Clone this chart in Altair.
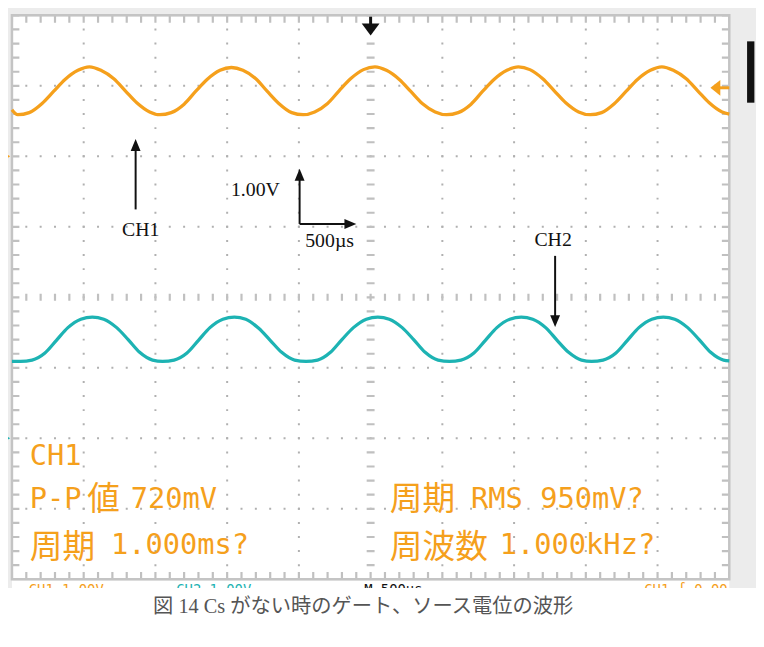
import altair as alt
import pandas as pd

ORANGE = "#F5A01C"
CYAN = "#1DB3B3"
GRID = "#b0b0b0"
TICK = "#c0c0c0"
FRAME = "#c4c4c4"
PANEL = "#ececec"

# ---- waveform readings: time (ms), level (divisions, 1.00 V/div) ----
ch1_t = [0.00, 0.04, 0.12, 0.21, 0.29, 0.37, 0.46, 0.54, 0.62, 0.71, 0.79, 0.87, 0.96,
         1.03, 1.11, 1.20, 1.28, 1.36, 1.45, 1.53, 1.61, 1.70, 1.78, 1.86, 1.95,
         2.03, 2.11, 2.20, 2.28, 2.36, 2.45, 2.53, 2.61, 2.70, 2.78, 2.86, 2.95,
         3.03, 3.11, 3.20, 3.28, 3.36, 3.45, 3.53, 3.61, 3.70, 3.78, 3.86, 3.95,
         4.03, 4.11, 4.20, 4.28, 4.36, 4.45, 4.53, 4.61, 4.70, 4.78, 4.86, 4.95, 5.00]
ch1_v = [2.66, 2.59, 2.62, 2.75, 2.92, 3.09, 3.22, 3.27, 3.22, 3.10, 2.93, 2.76, 2.63,
         2.59, 2.62, 2.74, 2.92, 3.09, 3.22, 3.26, 3.22, 3.10, 2.92, 2.75, 2.62,
         2.59, 2.63, 2.75, 2.93, 3.10, 3.23, 3.27, 3.22, 3.09, 2.92, 2.75, 2.63,
         2.59, 2.62, 2.74, 2.92, 3.09, 3.22, 3.27, 3.23, 3.10, 2.93, 2.76, 2.63,
         2.59, 2.62, 2.75, 2.92, 3.09, 3.22, 3.27, 3.22, 3.10, 2.93, 2.76, 2.63, 2.60]

ch2_t = [0.00, 0.06, 0.14, 0.23, 0.31, 0.39, 0.48, 0.56, 0.64, 0.73, 0.81, 0.89, 0.98,
         1.05, 1.13, 1.22, 1.30, 1.38, 1.47, 1.55, 1.63, 1.72, 1.80, 1.88, 1.97,
         2.05, 2.13, 2.22, 2.30, 2.38, 2.47, 2.55, 2.63, 2.72, 2.80, 2.88, 2.97,
         3.05, 3.13, 3.22, 3.30, 3.38, 3.47, 3.55, 3.63, 3.72, 3.80, 3.88, 3.97,
         4.04, 4.12, 4.21, 4.29, 4.37, 4.46, 4.54, 4.62, 4.71, 4.79, 4.87, 4.96, 5.00]
ch2_v = [-0.91, -0.91, -0.89, -0.79, -0.61, -0.43, -0.31, -0.28, -0.31, -0.43, -0.60, -0.78, -0.89,
         -0.91, -0.89, -0.79, -0.61, -0.43, -0.31, -0.28, -0.31, -0.44, -0.61, -0.78, -0.89,
         -0.91, -0.89, -0.78, -0.60, -0.43, -0.31, -0.28, -0.31, -0.43, -0.60, -0.78, -0.89,
         -0.91, -0.89, -0.79, -0.61, -0.43, -0.31, -0.28, -0.31, -0.43, -0.61, -0.78, -0.89,
         -0.91, -0.89, -0.79, -0.61, -0.43, -0.31, -0.28, -0.31, -0.43, -0.60, -0.78, -0.89, -0.90]

# ---- graticule ----
vgrid_t = [0.5, 1.0, 1.5, 2.0, 3.0, 3.5, 4.0, 4.5]
hgrid_v = [3, 2, 1, -1, -2, -3]

# ---- annotation texts ----
note_text = ["CH1", "1.00V", "500µs", "CH2"]
note_t = [0.897, 1.697, 2.214, 3.772]
note_v = [0.952, 1.527, 0.798, 0.812]

meas_latin = ["CH1", "P-P", "720mV", "RMS 950mV?", "1.000ms?", "1.000kHz?"]
meas_latin_t = [0.124, 0.124, 0.828, 3.20, 0.690, 3.40]
meas_latin_v = [-2.384, -2.987, -2.987, -2.987, -3.646, -3.646]
meas_kanji = ["値", "周期", "周期", "周波数"]
meas_kanji_t = [0.524, 2.634, 0.124, 2.634]
meas_kanji_v = [-2.877, -2.877, -3.564, -3.564]

status_text = ["CH1  1.00V", "CH2  1.00V", "M 500µs", "CH1 ∫ 0.00"]
status_t = [0.117, 1.145, 2.455, 4.407]
status_color = [ORANGE, CYAN, "#111111", ORANGE]

caption = "図 14  Cs がない時のゲート、ソース電位の波形"

XS = alt.Scale(domain=[0, 5], nice=False, zero=False)
YS = alt.Scale(domain=[-4, 4], nice=False, zero=False)


def xe(f="t"):
    return alt.X(f, type="quantitative", scale=XS, axis=None)


def ye(f="v"):
    return alt.Y(f, type="quantitative", scale=YS, axis=None)


def rect_layer(df, **kw):
    return alt.Chart(df).mark_rect(**kw).encode(x=xe("t"), x2="t2", y=ye("v"), y2="v2")


def vrule(df, **kw):
    return alt.Chart(df).mark_rule(**kw).encode(x=xe("t"), y=ye("v"), y2="v2")


def hrule(df, **kw):
    return alt.Chart(df).mark_rule(**kw).encode(x=xe("t"), x2="t2", y=ye("v"))


def sym(df, shape, size, color):
    return alt.Chart(df).mark_point(shape=shape, size=size, filled=True, color=color,
                                    opacity=1, strokeWidth=0).encode(x=xe("t"), y=ye("v"))


layers = []
# background panels of the instrument
layers.append(rect_layer(pd.DataFrame({"t": [5.0, -0.2, -0.2], "t2": [5.3, 0.0, 5.3],
                                        "v": [4.3, 4.3, 4.3], "v2": [-4.13, -4.13, 4.0]}),
                         color=PANEL))
layers.append(rect_layer(pd.DataFrame({"t": [5.124], "t2": [5.175], "v": [3.631], "v2": [2.761]}),
                         color="#111111"))

# dotted graticule
layers.append(vrule(pd.DataFrame({"t": vgrid_t, "v": [4] * len(vgrid_t), "v2": [-4] * len(vgrid_t)}),
                    color=GRID, strokeWidth=2, strokeDash=[2, 12.25], strokeDashOffset=1))
layers.append(hrule(pd.DataFrame({"v": hgrid_v, "t": [0] * len(hgrid_v), "t2": [5] * len(hgrid_v)}),
                    color=GRID, strokeWidth=2, strokeDash=[2, 12.5], strokeDashOffset=1))
# centre lines with minor ticks
layers.append(vrule(pd.DataFrame({"t": [2.5], "v": [4], "v2": [-4]}),
                    color=TICK, strokeWidth=8, strokeDash=[2.2, 12.05], strokeDashOffset=1.1))
layers.append(hrule(pd.DataFrame({"v": [0], "t": [0], "t2": [5]}),
                    color=TICK, strokeWidth=7, strokeDash=[2.2, 12.3], strokeDashOffset=1.1))
# edge ticks
layers.append(vrule(pd.DataFrame({"t": [0], "v": [4], "v2": [-4]}),
                    color=TICK, strokeWidth=7, strokeDash=[2.2, 12.05], strokeDashOffset=1.1, xOffset=4))
layers.append(vrule(pd.DataFrame({"t": [5], "v": [4], "v2": [-4]}),
                    color=TICK, strokeWidth=7, strokeDash=[2.2, 12.05], strokeDashOffset=1.1, xOffset=-4))
layers.append(hrule(pd.DataFrame({"v": [4], "t": [0], "t2": [5]}),
                    color=TICK, strokeWidth=7, strokeDash=[2.2, 12.3], strokeDashOffset=1.1, yOffset=4))
layers.append(hrule(pd.DataFrame({"v": [-4], "t": [0], "t2": [5]}),
                    color=TICK, strokeWidth=7, strokeDash=[2.2, 12.3], strokeDashOffset=1.1, yOffset=-4))
# frame
layers.append(rect_layer(pd.DataFrame({"t": [0], "t2": [5], "v": [4], "v2": [-4]}),
                         filled=False, color=FRAME, strokeWidth=2.5))

# waveforms
layers.append(alt.Chart(pd.DataFrame({"t": ch1_t, "v": ch1_v})).mark_line(
    color=ORANGE, strokeWidth=3.3, interpolate="monotone").encode(x=xe("t"), y=ye("v")))
layers.append(alt.Chart(pd.DataFrame({"t": ch2_t, "v": ch2_v})).mark_line(
    color=CYAN, strokeWidth=3.3, interpolate="monotone").encode(x=xe("t"), y=ye("v")))

# trigger markers
layers.append(vrule(pd.DataFrame({"t": [2.5], "v": [3.98], "v2": [3.84]}), color="#111111", strokeWidth=3))
layers.append(sym(pd.DataFrame({"t": [2.5], "v": [3.80]}), "M-1,-0.67L1,-0.67L0,0.67Z", 324, "#111111"))
layers.append(hrule(pd.DataFrame({"v": [2.972], "t": [4.93], "t2": [5.0]}), color=ORANGE, strokeWidth=3))
layers.append(sym(pd.DataFrame({"t": [4.903], "v": [2.972]}), "M-1,0L1,-1.6L1,1.6Z", 100, ORANGE))
layers.append(sym(pd.DataFrame({"t": [-0.04], "v": [2.0]}), "M-1,-1.2L1,0L-1,1.2Z", 64, ORANGE))
layers.append(sym(pd.DataFrame({"t": [-0.04], "v": [-2.0]}), "M-1,-1.2L1,0L-1,1.2Z", 64, CYAN))

# annotation arrows
layers.append(vrule(pd.DataFrame({"t": [0.862, 2.005, 3.786], "v": [1.247, 1.041, 0.588],
                                  "v2": [2.10, 1.75, -0.33]}), color="#111111", strokeWidth=2))
layers.append(hrule(pd.DataFrame({"v": [1.041], "t": [2.005], "t2": [2.34]}), color="#111111", strokeWidth=2))
layers.append(sym(pd.DataFrame({"t": [0.862, 2.005], "v": [2.16, 1.738]}), "M-1,1.2L1,1.2L0,-1.2Z", 100, "#111111"))
layers.append(sym(pd.DataFrame({"t": [2.359], "v": [1.041]}), "M-1.2,-1L1.2,0L-1.2,1Z", 100, "#111111"))
layers.append(sym(pd.DataFrame({"t": [3.786], "v": [-0.338]}), "M-1,-1.2L1,-1.2L0,1.2Z", 100, "#111111"))

layers.append(alt.Chart(pd.DataFrame({"t": note_t, "v": note_v, "s": note_text})).mark_text(
    font="Liberation Serif", fontSize=20, color="#111111", align="center", baseline="middle").encode(
    x=xe("t"), y=ye("v"), text="s:N"))

# measurement readout
layers.append(alt.Chart(pd.DataFrame({"t": meas_latin_t, "v": meas_latin_v, "s": meas_latin})).mark_text(
    font="DejaVu Sans Mono", fontSize=29, color=ORANGE, align="left", baseline="alphabetic").encode(
    x=xe("t"), y=ye("v"), text="s:N"))
layers.append(alt.Chart(pd.DataFrame({"t": meas_kanji_t, "v": meas_kanji_v, "s": meas_kanji})).mark_text(
    font="Noto Sans CJK JP", fontSize=33, color=ORANGE, align="left", baseline="middle").encode(
    x=xe("t"), y=ye("v"), text="s:N"))

# status line (cut off in the original)
layers.append(alt.Chart(pd.DataFrame({"t": status_t, "v": [-4.05] * 4, "s": status_text,
                                      "c": status_color})).mark_text(
    font="DejaVu Sans Mono", fontSize=14, align="left", baseline="top").encode(
    x=xe("t"), y=ye("v"), text="s:N", color=alt.Color("c:N", scale=None)))
layers.append(rect_layer(pd.DataFrame({"t": [-0.2], "t2": [5.3], "v": [-4.125], "v2": [-4.9]}),
                         color="white"))

# caption
layers.append(alt.Chart(pd.DataFrame({"t": [2.448], "v": [-4.40], "s": [caption]})).mark_text(
    font="Liberation Serif, Noto Sans CJK JP", fontSize=20.5, color="#555555", align="center",
    baseline="middle").encode(x=xe("t"), y=ye("v"), text="s:N"))

chart = alt.layer(*layers).properties(
    width=725, height=570,
    padding={"left": 4, "top": 4, "right": 27, "bottom": 65},
    autosize=alt.AutoSizeParams(type="none"),
).configure_view(strokeWidth=0).configure(background="white")

chart.save("out.html", embed_options={"renderer": "svg", "actions": False})
